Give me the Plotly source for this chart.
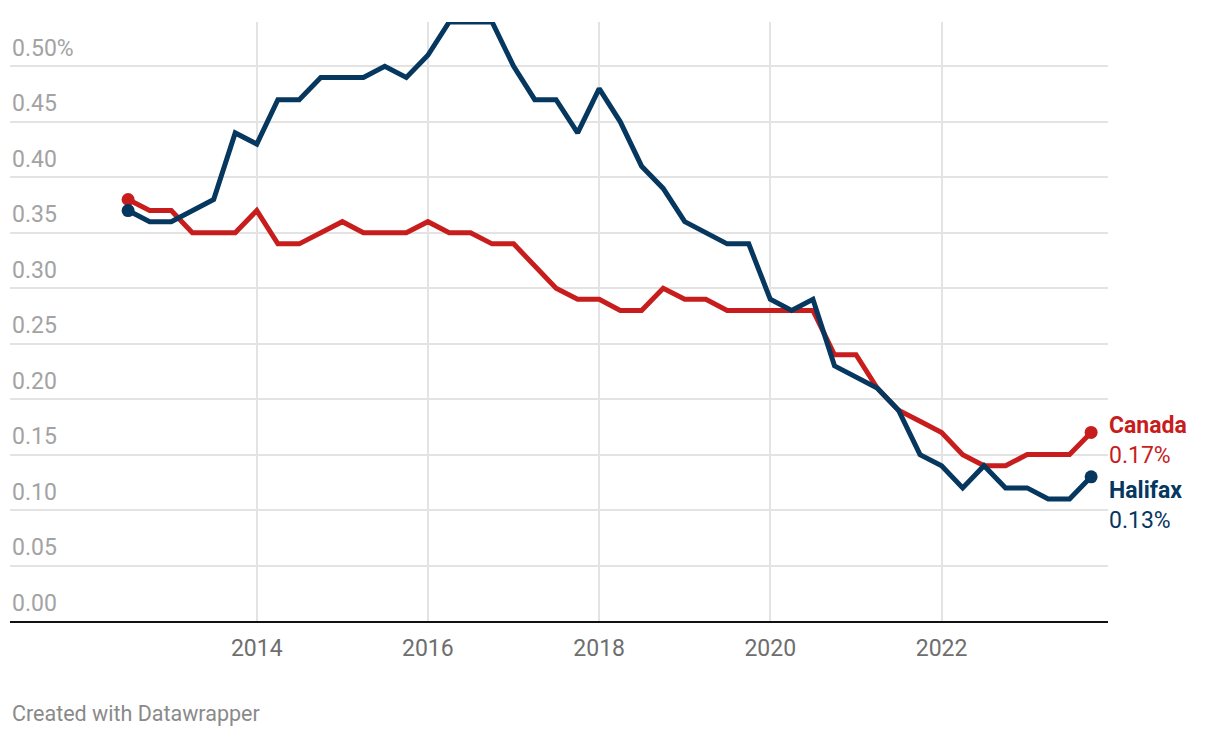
import plotly.graph_objects as go
import pandas as pd

quarters = pd.date_range(start="2012-07-01", periods=46, freq="QS")

canada = [0.38, 0.37, 0.37, 0.35, 0.35, 0.35, 0.37, 0.34, 0.34, 0.35,
          0.36, 0.35, 0.35, 0.35, 0.36, 0.35, 0.35, 0.34, 0.34, 0.32,
          0.30, 0.29, 0.29, 0.28, 0.28, 0.30, 0.29, 0.29, 0.28, 0.28,
          0.28, 0.28, 0.28, 0.24, 0.24, 0.21, 0.19, 0.18, 0.17, 0.15,
          0.14, 0.14, 0.15, 0.15, 0.15, 0.17]
halifax = [0.37, 0.36, 0.36, 0.37, 0.38, 0.44, 0.43, 0.47, 0.47, 0.49,
           0.49, 0.49, 0.50, 0.49, 0.51, 0.54, 0.54, 0.54, 0.50, 0.47,
           0.47, 0.44, 0.48, 0.45, 0.41, 0.39, 0.36, 0.35, 0.34, 0.34,
           0.29, 0.28, 0.29, 0.23, 0.22, 0.21, 0.19, 0.15, 0.14, 0.12,
           0.14, 0.12, 0.12, 0.11, 0.11, 0.13]

y_ticks = [0.0, 0.05, 0.10, 0.15, 0.20, 0.25, 0.30, 0.35, 0.40, 0.45, 0.50]
y_tick_labels = ["0.00", "0.05", "0.10", "0.15", "0.20", "0.25", "0.30",
                 "0.35", "0.40", "0.45", "0.50%"]
x_ticks = ["2014-01-01", "2016-01-01", "2018-01-01", "2020-01-01", "2022-01-01"]
x_tick_labels = ["2014", "2016", "2018", "2020", "2022"]

RED = "#c71e1d"
NAVY = "#05375f"
FONT = "Roboto"

series = [("Canada", canada, RED), ("Halifax", halifax, NAVY)]

fig = go.Figure()
for name, vals, col in series:
    fig.add_trace(go.Scatter(x=quarters, y=vals, mode="lines", name=name,
                             line=dict(color=col, width=5), hoverinfo="skip"))
    fig.add_trace(go.Scatter(x=[quarters[0], quarters[-1]], y=[vals[0], vals[-1]],
                             mode="markers", marker=dict(color=col, size=13),
                             hoverinfo="skip"))

annotations = []
for v, lab in zip(y_ticks, y_tick_labels):
    annotations.append(dict(x=0, xref="paper", y=v, yref="y", text=lab,
                            showarrow=False, xanchor="left", yanchor="middle",
                            yshift=18, xshift=0,
                            font=dict(family=FONT, size=23, color="#a3a3a3")))

label_offsets = {"Canada": -8, "Halifax": -29}
for name, vals, col in series:
    annotations.append(dict(x=quarters[-1], y=vals[-1], xref="x", yref="y",
                            text=f"<b>{name}</b><br>{vals[-1]:.2f}%",
                            showarrow=False, xanchor="left", yanchor="middle",
                            align="left", xshift=16, yshift=label_offsets[name],
                            font=dict(family=FONT, size=23, color=col)))

annotations.append(dict(x=0, xref="paper", y=-0.155, yref="paper",
                        text="Created with Datawrapper", showarrow=False,
                        xanchor="left", yanchor="middle",
                        font=dict(family=FONT, size=21.5, color="#8a8a8a")))

fig.update_layout(
    width=1220, height=738,
    margin=dict(l=10, r=112, t=22, b=117),
    paper_bgcolor="white", plot_bgcolor="white",
    showlegend=False,
    annotations=annotations,
    xaxis=dict(type="date", range=["2011-02-13", "2023-12-12"],
               tickvals=x_ticks, ticktext=x_tick_labels,
               showgrid=True, gridcolor="#e3e3e3", gridwidth=1.5,
               showline=True, linecolor="#111111", linewidth=2,
               ticks="outside", ticklen=5, tickcolor="rgba(0,0,0,0)",
               tickfont=dict(family=FONT, size=23, color="#6e6e6e"),
               zeroline=False, fixedrange=True),
    yaxis=dict(range=[0, 0.54], tickvals=y_ticks, showticklabels=False,
               showgrid=True, gridcolor="#e3e3e3", gridwidth=1.5,
               zeroline=False, showline=False, fixedrange=True),
)

fig.write_html("out.html")
